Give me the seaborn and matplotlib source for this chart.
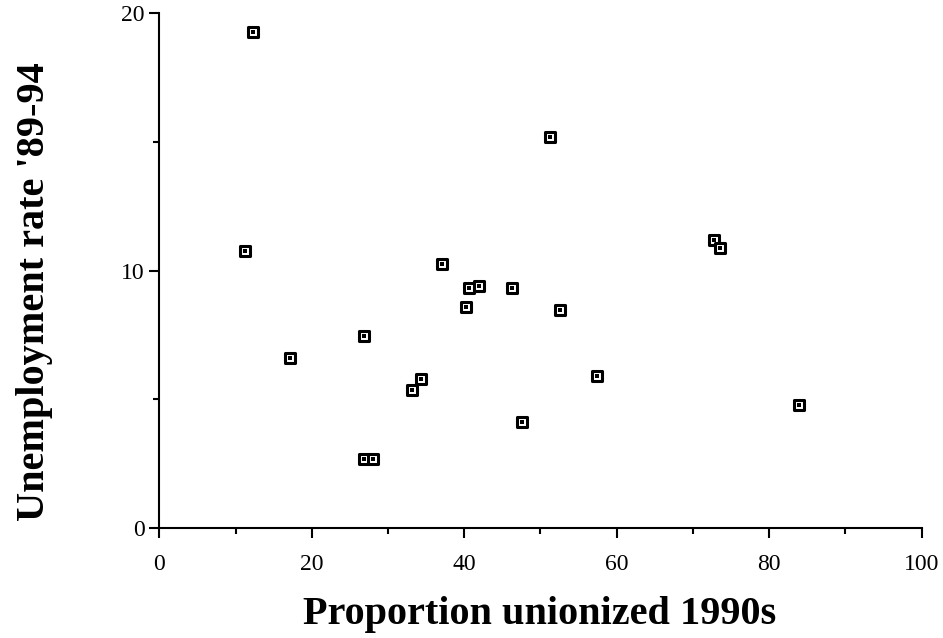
import matplotlib
matplotlib.use("Agg")
import matplotlib.pyplot as plt
import pandas as pd
import seaborn as sns
from matplotlib.ticker import MultipleLocator

# proportion unionized (%) and unemployment rate '89-94 (%)
union = [12.3, 11.2, 17.2, 26.9, 26.9, 28.0, 33.2, 34.3, 37.1, 40.6,
         42.0, 40.2, 46.2, 52.5, 47.6, 51.2, 57.4, 72.7, 73.5, 83.9]
unemp = [19.27, 10.76, 6.62, 7.45, 2.67, 2.67, 5.37, 5.79, 10.24, 9.31,
         9.41, 8.59, 9.31, 8.48, 4.13, 15.19, 5.91, 11.19, 10.87, 4.78]

df = pd.DataFrame({"union": union, "unemp": unemp})

sns.set_style("ticks")
plt.rcParams["font.family"] = ["Liberation Serif", "DejaVu Serif"]
plt.rcParams["text.color"] = "black"
plt.rcParams["axes.labelcolor"] = "black"
plt.rcParams["xtick.color"] = "black"
plt.rcParams["ytick.color"] = "black"

fig = plt.figure(figsize=(9.43, 6.38), dpi=100)
ax = fig.add_axes([0.1689, 0.1724, 0.8085, 0.8067])

# outer square with white face, then the small dot in the middle
sns.scatterplot(data=df, x="union", y="unemp", marker="s", s=7.8 ** 2,
                facecolor="white", edgecolor="black", linewidth=2.2, ax=ax, zorder=3)
sns.scatterplot(data=df, x="union", y="unemp", marker="s", s=2.5 ** 2,
                color="black", linewidth=0, ax=ax, zorder=4)

ax.set_xlim(0, 100)
ax.set_ylim(0, 20)
ax.xaxis.set_major_locator(MultipleLocator(20))
ax.xaxis.set_minor_locator(MultipleLocator(10))
ax.yaxis.set_major_locator(MultipleLocator(10))
ax.yaxis.set_minor_locator(MultipleLocator(5))

sns.despine(ax=ax)
for side in ("left", "bottom"):
    ax.spines[side].set_linewidth(1.5)
    ax.spines[side].set_color("black")

ax.tick_params(which="major", direction="out", length=7.5, width=1.5, labelsize=17)
ax.tick_params(axis="x", which="major", pad=11)
ax.tick_params(axis="y", which="major", pad=3)
ax.tick_params(which="minor", direction="out", length=4, width=1.5)

ax.set_xlabel("Proportion unionized 1990s", fontsize=29, fontweight="bold")
ax.set_ylabel("Unemployment rate '89-94", fontsize=29, fontweight="bold")
ax.xaxis.set_label_coords(0.499, -0.132)
ax.yaxis.set_label_coords(-0.139, 0.46)

fig.savefig("out.png", dpi=100)
plt.close(fig)
